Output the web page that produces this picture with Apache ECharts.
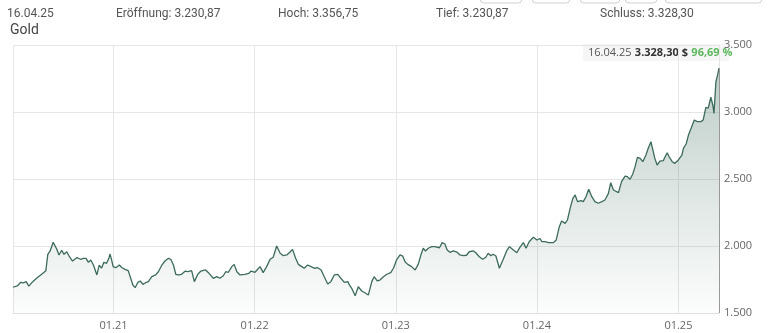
<!DOCTYPE html>
<html><head><meta charset="utf-8">
<script src="https://cdn.jsdelivr.net/npm/echarts@6/dist/echarts.min.js"></script>
<style>html,body{margin:0;padding:0;background:#fff}#c{width:780px;height:333px}</style>
</head><body><div id="c"></div>
<script>
// ---- data ----
const seriesName = 'Gold';
const startDate = [2020, 3, 16];          // 16.04.2020
const dayOffsets = [0,11,20,27,34,41,51,61,74,85,90,96,104,113,119,126,132,139,146,154,165,169,175,182,189,195,201,208,217,223,229,235,242,248,251,255,259,266,275,282,290,298,305,310,316,323,329,336,343,350,359,369,376,385,393,402,408,415,421,428,436,445,453,462,469,478,486,498,507,518,527,535,544,550,557,566,572,579,587,600,610,616,626,639,647,656,665,673,682,691,699,708,716,723,731,738,747,753,762,771,779,788,797,805,814,822,831,840,848,857,866,870,876,885,893,902,910,919,928,934,942,949,958,967,977,984,992,1001,1008,1014,1021,1031,1040,1048,1055,1061,1067,1074,1083,1091,1103,1110,1117,1123,1130,1139,1148,1156,1165,1173,1180,1191,1197,1206,1215,1223,1229,1236,1242,1249,1258,1268,1277,1284,1292,1303,1311,1320,1327,1335,1346,1355,1363,1368,1376,1385,1398,1405,1413,1419,1428,1434,1441,1448,1454,1460,1469,1475,1482,1489,1497,1505,1514,1523,1531,1540,1546,1553,1566,1574,1583,1589,1596,1603,1609,1615,1622,1629,1637,1643,1650,1656,1660,1666,1673,1682,1686,1692,1697,1705,1712,1721,1730,1734,1741,1747,1755,1762,1770,1779,1785,1792,1798,1805,1810,1813,1818,1823,1826];
const prices = [1692.15,1702,1729,1724,1734,1701,1734,1759,1789,1816,1938,1963,2028,1978,1933,1968,1938,1957,1920,1888,1913,1920,1901,1908,1908,1878,1896,1858,1784,1858,1834,1878,1871,1908,1940,1896,1846,1838,1858,1838,1826,1816,1754,1709,1689,1729,1739,1714,1726,1734,1771,1784,1808,1858,1888,1908,1901,1858,1789,1784,1789,1812,1808,1816,1734,1789,1813,1821,1796,1759,1771,1759,1778,1808,1804,1846,1863,1808,1784,1789,1796,1813,1804,1846,1801,1846,1901,1916,2000,1946,1928,1933,1953,1975,1908,1863,1846,1834,1858,1846,1834,1838,1821,1771,1716,1734,1784,1789,1759,1729,1734,1709,1684,1629,1696,1664,1651,1634,1734,1771,1739,1746,1771,1789,1801,1834,1896,1933,1925,1883,1863,1846,1821,1863,1933,1983,1963,1983,1995,1995,1987,2025,2015,1970,1953,1963,1955,1933,1928,1931,1957,1963,1950,1920,1901,1916,1946,1928,1938,1925,1834,1901,1965,1995,1975,1950,1990,2025,1983,2032,2065,2045,2056,2032,2032,2025,2025,2045,2144,2187,2169,2194,2281,2356,2381,2331,2338,2331,2368,2423,2368,2331,2319,2331,2343,2393,2472,2418,2398,2480,2522,2517,2498,2537,2592,2662,2654,2629,2679,2729,2778,2704,2654,2604,2634,2637,2662,2696,2666,2629,2617,2642,2679,2729,2761,2828,2886,2940,2928,2928,2940,3035,3028,3110,3052,2990,3226,3284,3328.30];
const yTicks = [1500, 2000, 2500, 3000, 3500];
const headerDate = '16.04.25';
const headerItems = [['Eröffnung', 3230.87], ['Hoch', 3356.75], ['Tief', 3230.87], ['Schluss', 3328.30]];

// ---- helpers ----
function deNum(v, dec) {
  const parts = v.toFixed(dec).split('.');
  parts[0] = parts[0].replace(/\B(?=(\d{3})+(?!\d))/g, '.');
  return dec ? parts[0] + ',' + parts[1] : parts[0];
}
const t0 = new Date(startDate[0], startDate[1], startDate[2]).getTime();
const DAY = 864e5;
const seriesData = dayOffsets.map((d, i) => [t0 + d * DAY, prices[i]]);
const tMax = t0 + dayOffsets[dayOffsets.length - 1] * DAY;
const lastVal = prices[prices.length - 1];
const pct = (lastVal / prices[0] - 1) * 100;

const chart = echarts.init(document.getElementById('c'), null, {renderer: 'canvas'});
const lineColor = '#3d6b5a';
const uiFont = "'Liberation Sans Narrow', 'Roboto', sans-serif";
const numFont = "'Open Sans', sans-serif";

const headerX = [116, 278, 436, 600];
const graphics = [
  {type: 'text', left: 7, top: 8, style: {text: headerDate, fill: '#555', font: '12px ' + uiFont}},
  ...headerItems.map((h, i) => ({type: 'text', left: headerX[i], top: 8,
    style: {text: h[0] + ': ' + deNum(h[1], 2), fill: '#555', font: '12px ' + uiFont}})),
  {type: 'text', left: 10, top: 23, style: {text: seriesName, fill: '#444', font: '14px ' + uiFont}},
];
[[480, 42], [532, 38], [580, 40], [625, 32], [665, 97]].forEach(b => {
  graphics.push({type: 'rect', shape: {x: b[0], y: -20, width: b[1], height: 23, r: 4},
    style: {fill: '#fff', stroke: '#d0d0d0', lineWidth: 1}});
});
graphics.push({
  type: 'group', left: 583, top: 44, z: 100, children: [
    {type: 'rect', shape: {x: 0, y: 0, width: 146, height: 17}, style: {fill: 'rgba(246,246,246,0.95)'}},
    {type: 'text', x: 5, y: 9, style: {
      text: '{d|' + headerDate + '} {v|' + deNum(lastVal, 2) + ' $} {p|' + deNum(pct, 2) + ' %}',
      verticalAlign: 'middle',
      rich: {
        d: {fill: '#555', font: '11px ' + numFont},
        v: {fill: '#333', font: 'bold 11px ' + numFont},
        p: {fill: '#5cb85c', font: 'bold 11px ' + numFont}
      }
    }}
  ]
});

chart.setOption({
  animation: false,
  grid: {left: 13, right: 61, top: 45, bottom: 20},
  xAxis: {
    type: 'time', min: t0, max: tMax, splitNumber: 5, minInterval: 360 * DAY,
    axisLine: {show: true, lineStyle: {color: '#e0e0e0'}},
    axisTick: {show: false},
    axisLabel: {color: '#666', fontSize: 11, fontFamily: numFont, margin: 7, hideOverlap: false,
      showMinLabel: false, showMaxLabel: false,
      formatter: v => { const d = new Date(v); return String(d.getMonth() + 1).padStart(2, '0') + '.' + String(d.getFullYear()).slice(2); }},
    splitLine: {show: true, lineStyle: {color: '#e6e6e6'}}
  },
  yAxis: {
    type: 'value', position: 'right', min: yTicks[0], max: yTicks[yTicks.length - 1], interval: 500,
    axisLine: {show: false}, axisTick: {show: false},
    axisLabel: {color: '#666', fontSize: 11, fontFamily: numFont, margin: 5, formatter: v => deNum(v, 0)},
    splitLine: {lineStyle: {color: '#e6e6e6'}}
  },
  series: [{
    name: seriesName, type: 'line', data: seriesData, showSymbol: false, smooth: false,
    lineStyle: {color: lineColor, width: 1.3},
    areaStyle: {color: new echarts.graphic.LinearGradient(0, 0, 0, 1, [
      {offset: 0, color: 'rgba(61,107,90,0.48)'},
      {offset: 1, color: 'rgba(61,107,90,0.02)'}
    ])},
    markLine: {silent: true, symbol: 'none', label: {show: false},
      lineStyle: {color: '#999', width: 1, type: 'solid'},
      data: [[{coord: [tMax, lastVal]}, {coord: [tMax, yTicks[0]]}]]}
  }],
  graphic: graphics
});
</script></body></html>
